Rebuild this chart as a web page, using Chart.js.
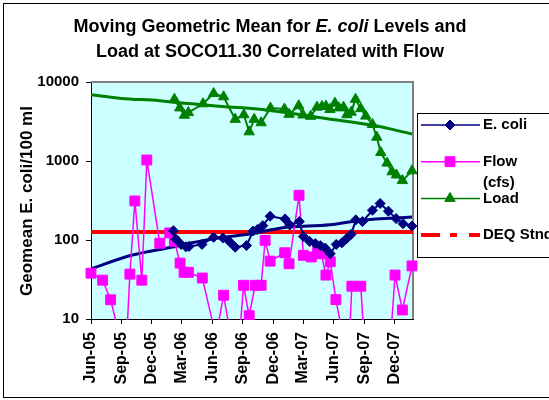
<!DOCTYPE html>
<html>
<head>
<meta charset="utf-8">
<script src="https://cdn.jsdelivr.net/npm/chart.js@4.4.1/dist/chart.umd.min.js"></script>
<style>
  html, body { margin: 0; padding: 0; background: #fff; }
  #wrap { width: 549px; height: 400px; position: relative; }
</style>
</head>
<body>
<div id="wrap"><canvas id="c" width="549" height="400"></canvas></div>
<script>
// ---- data ----------------------------------------------------------------
const axisStart = '2005-06-01';
const axisEnd = '2008-01-26';
const tickDates = ['2005-06-01', '2005-09-01', '2005-12-01', '2006-03-01', '2006-06-01', '2006-09-01',
                   '2006-12-01', '2007-03-01', '2007-06-01', '2007-09-01', '2007-12-01'];
const yTicks = [10, 100, 1000, 10000];

const flowDates = ['2005-06-01', '2005-07-06', '2005-07-30', '2005-09-13', '2005-09-26', '2005-10-11',
  '2005-11-01', '2005-11-16', '2005-12-25', '2006-01-24', '2006-02-07', '2006-02-24', '2006-03-08',
  '2006-03-21', '2006-05-02', '2006-06-12', '2006-07-05', '2006-08-14', '2006-09-03', '2006-09-20',
  '2006-10-08', '2006-10-26', '2006-11-07', '2006-11-22', '2007-01-05', '2007-01-18', '2007-02-17',
  '2007-03-02', '2007-03-26', '2007-04-14', '2007-04-25', '2007-05-09', '2007-05-22', '2007-06-08',
  '2007-07-15', '2007-07-26', '2007-08-22', '2007-09-11', '2007-11-07', '2007-12-03', '2007-12-25',
  '2008-01-23'];
const flowCfs = [38, 31, 17.5, 3, 37, 312, 31, 1030, 91, 123, 96, 51, 39, 39, 33, 6, 20, 2.2, 26.7, 11,
  26.7, 26.7, 99, 54, 69, 50, 368, 64, 61, 78, 67, 36, 53, 17.6, 2.7, 26, 26, 1, 1, 36, 13, 47];

const ecoliDates = ['2006-02-04', '2006-02-12', '2006-02-27', '2006-03-14', '2006-03-23', '2006-05-01',
  '2006-06-05', '2006-07-03', '2006-07-24', '2006-08-09', '2006-09-12', '2006-10-02', '2006-10-15',
  '2006-10-31', '2006-11-22', '2007-01-06', '2007-01-20', '2007-02-18', '2007-03-02', '2007-03-21',
  '2007-04-07', '2007-04-22', '2007-05-07', '2007-05-22', '2007-06-09', '2007-06-26', '2007-07-10',
  '2007-07-24', '2007-08-07', '2007-08-27', '2007-09-26', '2007-10-19', '2007-11-13', '2007-12-06',
  '2007-12-27', '2008-01-23'];
const ecoliGeomean = [131, 102, 88, 82, 83, 88, 108, 106, 94, 81, 85, 130, 136, 152, 200, 185, 155, 171,
  111, 96, 90, 85, 79, 67, 88, 92, 104, 118, 180, 171, 238, 290, 232, 187, 161, 150];

const loadDates = ['2006-02-07', '2006-02-23', '2006-03-09', '2006-03-21', '2006-05-04', '2006-06-05',
  '2006-07-05', '2006-08-09', '2006-09-04', '2006-09-20', '2006-10-05', '2006-10-26', '2006-11-23',
  '2007-01-04', '2007-01-18', '2007-02-16', '2007-03-01', '2007-03-24', '2007-04-12', '2007-04-27',
  '2007-05-09', '2007-05-21', '2007-06-05', '2007-06-17', '2007-07-01', '2007-07-11', '2007-07-24',
  '2007-08-06', '2007-08-22', '2007-09-06', '2007-09-26', '2007-10-09', '2007-10-21', '2007-11-09',
  '2007-11-24', '2007-12-07', '2007-12-25', '2008-01-23'];
const loadValues = [6050, 4700, 3800, 4100, 5300, 7150, 6500, 3370, 3850, 2340, 3370, 3050, 4670, 4550,
  3900, 5000, 3820, 3680, 4800, 4900, 4950, 4500, 5400, 4700, 4800, 3850, 4150, 6050, 4600, 3700, 2900,
  2000, 1280, 940, 730, 665, 565, 750];

// smoothed trends
const ecoliTrendDates = ['2005-06-01', '2005-09-30', '2006-01-28', '2006-03-20', '2006-06-18',
  '2006-09-27', '2006-12-26', '2007-05-21', '2007-08-25', '2008-01-23'];
const ecoliTrend = [43, 64, 81, 90, 106, 120, 142, 156, 178, 195];
const loadTrendDates = ['2005-06-01', '2005-08-31', '2005-12-25', '2006-01-28', '2006-03-30',
  '2006-07-18', '2006-09-27', '2006-12-22', '2007-05-09', '2007-09-24', '2008-01-23'];
const loadTrend = [6900, 6200, 5800, 5600, 5300, 4830, 4620, 4200, 3450, 2850, 2200];

const deqStandard = 126;

// ---- helpers ---------------------------------------------------------------
const FONT = '"Liberation Sans", Arial, sans-serif';
const MONTHS = ['Jan', 'Feb', 'Mar', 'Apr', 'May', 'Jun', 'Jul', 'Aug', 'Sep', 'Oct', 'Nov', 'Dec'];
const startMs = Date.parse(axisStart + 'T00:00:00Z');
function dayOf(s) { return (Date.parse(s + 'T00:00:00Z') - startMs) / 86400000; }
function monthLabel(s) {
  const [y, m] = s.split('-');
  return MONTHS[Number(m) - 1] + '-' + y.slice(2);
}
function points(dates, values) { return dates.map((d, i) => ({ x: dayOf(d), y: values[i] })); }

const bottomClip = { left: false, right: false, top: false, bottom: 1 };

// ---- frame, titles and legend ----------------------------------------------
const framePlugin = {
  id: 'framePlugin',
  beforeDraw(chart) {
    const { ctx, chartArea: a } = chart;
    ctx.save();
    ctx.fillStyle = '#ffffff';
    ctx.fillRect(0, 0, chart.width, chart.height);
    ctx.strokeStyle = '#000000';
    ctx.lineWidth = 1;
    ctx.strokeRect(3.5, 3.5, chart.width + 20, 394);
    ctx.fillStyle = '#CCFFFF';
    ctx.fillRect(a.left, a.top, a.right - a.left, a.bottom - a.top);
    ctx.restore();
  },
  beforeDatasetsDraw(chart) {
    const { ctx, chartArea: a } = chart;
    ctx.save();
    ctx.strokeStyle = '#808080';
    ctx.lineWidth = 2;
    ctx.beginPath();
    ctx.moveTo(a.left, a.top);
    ctx.lineTo(a.right, a.top);
    ctx.lineTo(a.right, a.bottom);
    ctx.stroke();
    ctx.restore();
  },
  afterDraw(chart) {
    const { ctx } = chart;
    ctx.save();
    ctx.fillStyle = '#000';
    ctx.textBaseline = 'alphabetic';

    // chart title, first line has an italic species name
    const bold = 'bold 18px ' + FONT;
    const boldItalic = 'italic bold 18px ' + FONT;
    const line1 = [['Moving Geometric Mean for ', bold], ['E. coli', boldItalic], [' Levels and', bold]];
    let w = 0;
    line1.forEach(([t, f]) => { ctx.font = f; w += ctx.measureText(t).width; });
    let x = 270 - w / 2;
    ctx.textAlign = 'left';
    line1.forEach(([t, f]) => { ctx.font = f; ctx.fillText(t, x, 32); x += ctx.measureText(t).width; });
    ctx.font = bold;
    ctx.textAlign = 'center';
    ctx.fillText('Load at SOCO11.30 Correlated with Flow', 270, 57);

    // y axis title
    ctx.save();
    ctx.translate(27, 201);
    ctx.rotate(-Math.PI / 2);
    ctx.font = 'bold 17px ' + FONT;
    ctx.textAlign = 'center';
    ctx.textBaseline = 'middle';
    ctx.fillText('Geomean E. coli/100 ml', 0, 0);
    ctx.restore();

    // legend
    const bx = 417.5, by = 113.5;
    ctx.fillStyle = '#fff';
    ctx.fillRect(bx, by, 200, 144);
    ctx.strokeStyle = '#000';
    ctx.lineWidth = 1;
    ctx.strokeRect(bx, by, 200, 144);
    const entries = chart.data.datasets.filter(ds => ds.label);
    entries.forEach((ds, i) => {
      const y = 125 + i * 36.7;
      ctx.save();
      ctx.strokeStyle = ds.borderColor;
      ctx.lineWidth = ds.legendDash ? 4 : 1.5;
      if (ds.legendDash) ctx.setLineDash(ds.legendDash);
      ctx.beginPath();
      ctx.moveTo(421, y);
      ctx.lineTo(480, y);
      ctx.stroke();
      ctx.restore();
      if (ds.pointRadius > 0) {
        ctx.save();
        ctx.fillStyle = ds.backgroundColor;
        ctx.strokeStyle = ds.borderColor;
        Chart.helpers.drawPoint(ctx, { pointStyle: ds.pointStyle, radius: ds.pointRadius, rotation: 0, borderWidth: 1 }, 450, y);
        ctx.restore();
      }
      ctx.fillStyle = '#000';
      ctx.font = 'bold 15px ' + FONT;
      ctx.textAlign = 'left';
      ctx.textBaseline = 'middle';
      const lines = ds.legendLines || [ds.label];
      lines.forEach((t, k) => ctx.fillText(t, 483, y + k * 21));
    });
    ctx.restore();
  }
};

// ---- chart ---------------------------------------------------------------------
const yTickFont = { family: FONT, size: 15, weight: 'bold' };
const xTickFont = { family: FONT, size: 16, weight: 'bold' };

new Chart(document.getElementById('c'), {
  type: 'line',
  data: {
    datasets: [
      {
        label: 'E. coli',
        data: points(ecoliDates, ecoliGeomean),
        borderColor: '#000080', backgroundColor: '#000080',
        borderWidth: 2, pointStyle: 'rectRot', pointRadius: 5, pointBorderWidth: 1,
        order: 1, clip: bottomClip
      },
      {
        label: 'Flow (cfs)',
        legendLines: ['Flow', '(cfs)'],
        data: points(flowDates, flowCfs),
        borderColor: '#FF00FF', backgroundColor: '#FF00FF',
        borderWidth: 1.5, pointStyle: 'rect', pointRadius: 7, pointBorderWidth: 1,
        order: 3, clip: bottomClip
      },
      {
        label: 'Load',
        data: points(loadDates, loadValues),
        borderColor: '#008000', backgroundColor: '#008000',
        borderWidth: 2, pointStyle: 'triangle', pointRadius: 6, pointBorderWidth: 1,
        order: 2, clip: bottomClip
      },
      {
        label: 'DEQ Stnd',
        legendDash: [19, 10, 7, 12],
        data: [{ x: dayOf(axisStart), y: deqStandard }, { x: dayOf(axisEnd), y: deqStandard }],
        borderColor: '#FF0000', backgroundColor: '#FF0000',
        borderWidth: 4, pointRadius: 0, order: 10
      },
      {
        label: '',
        data: points(ecoliTrendDates, ecoliTrend),
        borderColor: '#000080', borderWidth: 3, pointRadius: 0,
        cubicInterpolationMode: 'monotone', order: 8
      },
      {
        label: '',
        data: points(loadTrendDates, loadTrend),
        borderColor: '#008000', borderWidth: 3, pointRadius: 0,
        cubicInterpolationMode: 'monotone', order: 8
      }
    ]
  },
  options: {
    responsive: false,
    animation: false,
    devicePixelRatio: 1,
    layout: { padding: { top: 82, right: 136, bottom: 0, left: 0 } },
    plugins: { legend: { display: false }, title: { display: false }, tooltip: { enabled: false } },
    elements: { line: { tension: 0 } },
    scales: {
      x: {
        type: 'linear',
        min: dayOf(axisStart),
        max: dayOf(axisEnd),
        afterBuildTicks: s => { s.ticks = tickDates.map(d => ({ value: dayOf(d) })); },
        afterFit: s => { s.height = 81; },
        ticks: {
          autoSkip: false, minRotation: 90, maxRotation: 90, padding: 8,
          color: '#000', font: xTickFont,
          callback: (v, i) => monthLabel(tickDates[i])
        },
        grid: { drawOnChartArea: false, drawTicks: true, tickLength: 5, color: '#000', lineWidth: 1 },
        border: { display: true, color: '#000', width: 1 }
      },
      y: {
        type: 'logarithmic',
        min: 10,
        max: 10000,
        afterBuildTicks: s => { s.ticks = yTicks.map(v => ({ value: v })); },
        afterFit: s => { s.width = 91; },
        ticks: { padding: 7, color: '#000', font: yTickFont, callback: v => String(v) },
        grid: { drawOnChartArea: false, drawTicks: true, tickLength: 5, color: '#000', lineWidth: 1 },
        border: { display: true, color: '#000', width: 1 }
      }
    }
  },
  plugins: [framePlugin]
});
</script>
</body>
</html>
